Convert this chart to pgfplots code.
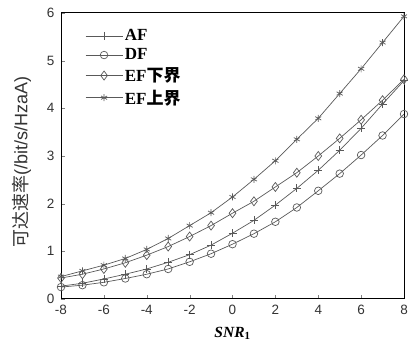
\documentclass[border=0pt]{standalone}
\usepackage{pgfplots}
\pgfplotsset{compat=1.18}
\usepackage{fontspec}
\setmainfont{Liberation Serif}
\setsansfont{Liberation Sans}
\newfontfamily\cjk{Noto Sans CJK SC}
\begin{document}
\begin{tikzpicture}
\begin{axis}[
  scale only axis,
  width=343pt, height=286pt,
  xmin=-8, xmax=8, ymin=0, ymax=6,
  xtick={-8,-6,...,8}, ytick={0,1,...,6},
  tick pos=left, tick align=inside,
  major tick length=4pt,
  axis line style={black, line width=1pt},
  /pgf/number format/assume math mode=true,
  ticklabel style={font=\sffamily\fontsize{13.5}{14}\selectfont, text=black!80},
  yticklabel style={xshift=-3pt},
  xticklabel style={yshift=-3pt},
  xlabel={\textbf{\textit{SNR}}$_{\mathbf{1}}$},
  xlabel style={font=\fontsize{15.5}{15}\selectfont, at={(axis description cs:0.5,-0.12)}, anchor=center},
  ylabel={{\cjk 可达速率}(/bit/s/HzaA)},
  ylabel style={font=\sffamily\fontsize{18}{18}\selectfont, text=black!80, at={(axis description cs:-0.115,0.48)}, anchor=center},
  legend style={draw=none, fill=none, inner sep=0pt, at={(axis description cs:0.07,0.95)}, anchor=north west,
    font=\bfseries\fontsize{17}{17}\selectfont, row sep=2.5pt},
  legend cell align=left,
  legend image code/.code={\draw[mark repeat=2,mark phase=2] plot coordinates {(0cm,0cm) (0.65cm,0cm) (1.3cm,0cm)};},
  every axis plot/.append style={black!65, line width=0.7pt},
]
\addplot[mark=+, mark size=4pt] coordinates {
(-8,0.27) (-7,0.33) (-6,0.42) (-5,0.52) (-4,0.63) (-3,0.77) (-2,0.93) (-1,1.13) (0,1.38) (1,1.65) (2,1.97) (3,2.32) (4,2.70) (5,3.12) (6,3.58) (7,4.09) (8,4.58)};
\addlegendentry{AF}
\addplot[mark=o, mark size=3.8pt] coordinates {
(-8,0.25) (-7,0.29) (-6,0.35) (-5,0.43) (-4,0.52) (-3,0.63) (-2,0.78) (-1,0.95) (0,1.15) (1,1.37) (2,1.62) (3,1.92) (4,2.27) (5,2.63) (6,3.02) (7,3.43) (8,3.88)};
\addlegendentry{DF}
\addplot[mark=diamond, mark size=4.5pt] coordinates {
(-8,0.44) (-7,0.52) (-6,0.63) (-5,0.76) (-4,0.92) (-3,1.10) (-2,1.31) (-1,1.54) (0,1.80) (1,2.05) (2,2.35) (3,2.65) (4,3.00) (5,3.37) (6,3.76) (7,4.17) (8,4.61)};
\addlegendentry{EF{\cjk 下界}}
\addplot[mark=asterisk, mark size=3.5pt] coordinates {
(-8,0.47) (-7,0.59) (-6,0.71) (-5,0.85) (-4,1.04) (-3,1.27) (-2,1.54) (-1,1.81) (0,2.14) (1,2.51) (2,2.90) (3,3.35) (4,3.79) (5,4.31) (6,4.83) (7,5.38) (8,5.93)};
\addlegendentry{EF{\cjk 上界}}
\coordinate (A) at (rel axis cs:0,0);
\coordinate (B) at (rel axis cs:1,1);
\end{axis}
\path ([shift={(-61pt,-46pt)}]A) rectangle ([shift={(11pt,13pt)}]B);
\end{tikzpicture}
\end{document}
